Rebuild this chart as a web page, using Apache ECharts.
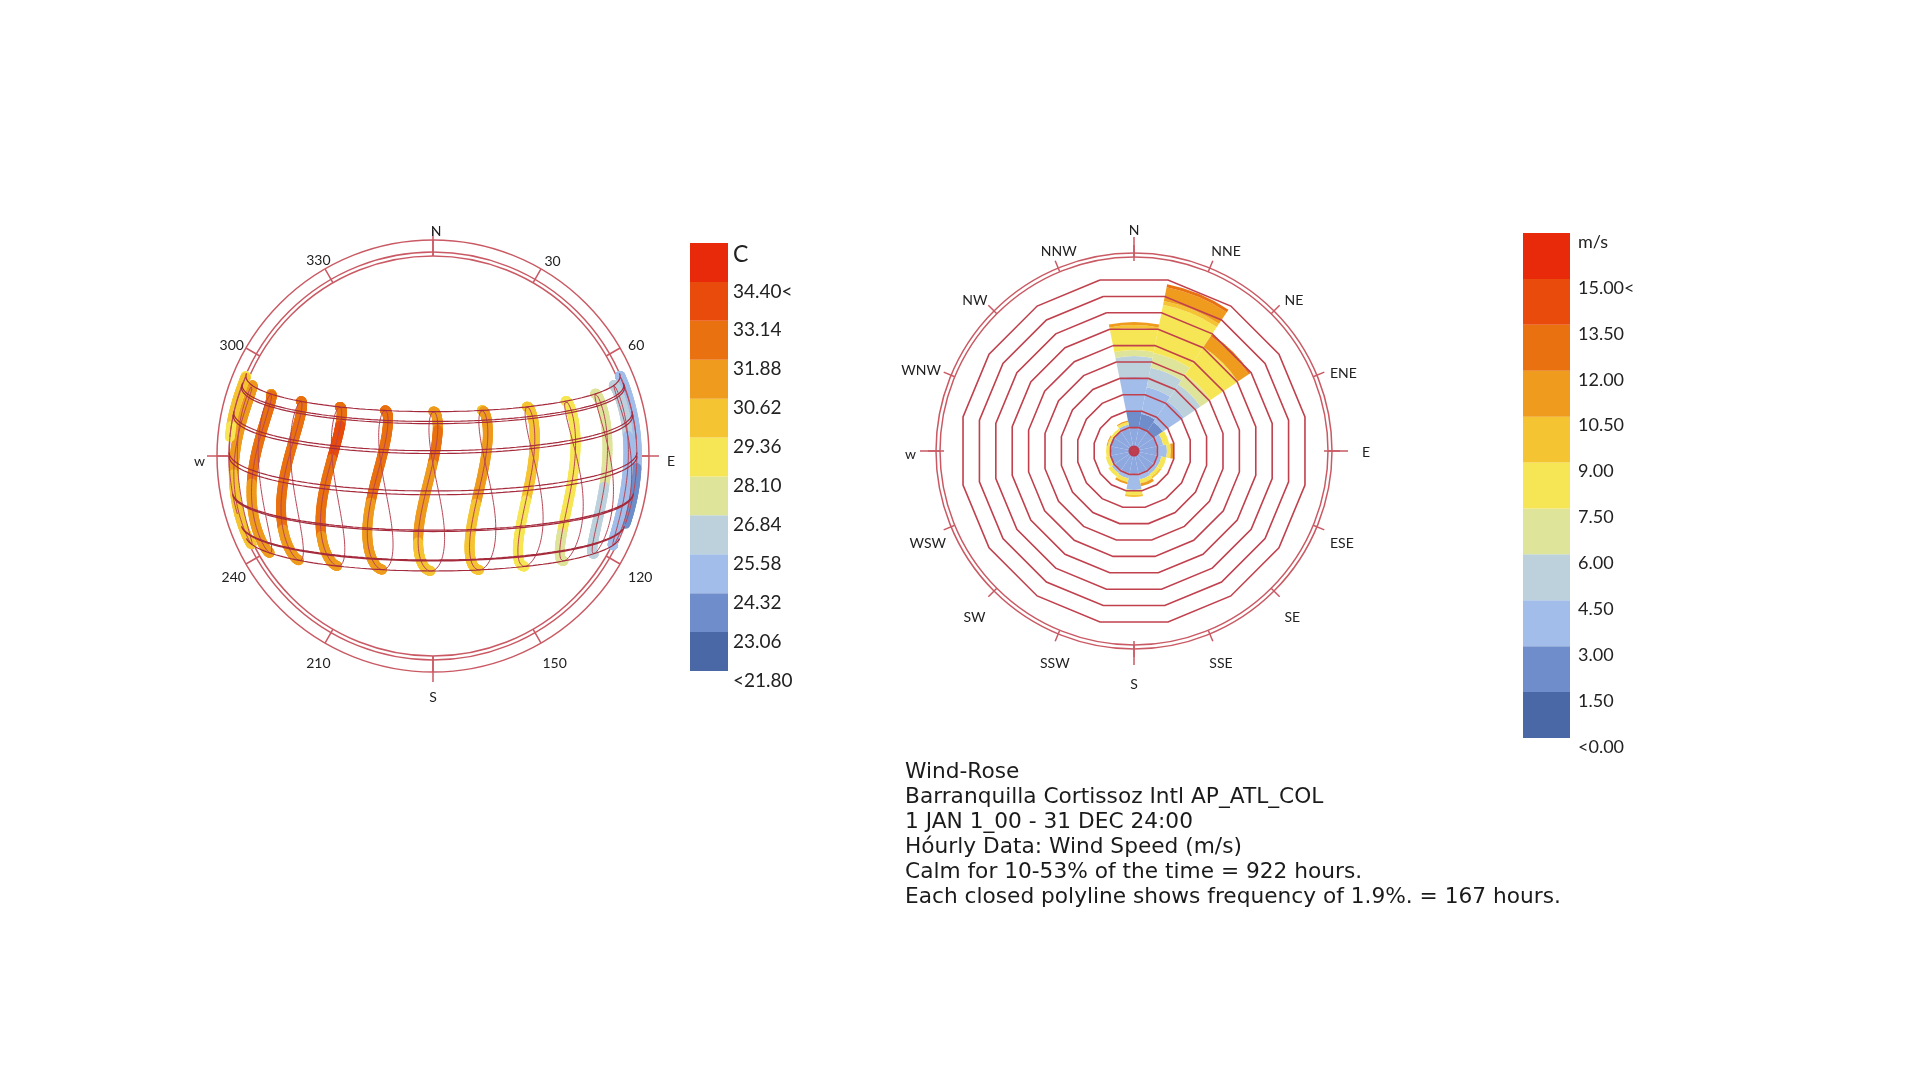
<!DOCTYPE html>
<html>
<head>
<meta charset="utf-8">
<title>Sun path and wind rose</title>
<script src="https://cdn.jsdelivr.net/npm/echarts@6/dist/echarts.min.js"></script>
<style>
  html, body { margin: 0; padding: 0; background: #fff; }
  #main { width: 1920px; height: 1080px; }
</style>
</head>
<body>
<div id="main"></div>
<script>
// ---- site ----
var latitude = 10.89;
var longitude = -74.78;
var timeZone = -5;

// ---- sun path: hours drawn, months with coloured points (21 Jun -> 21 Dec) ----
var sunHours = [6, 7, 8, 9, 10, 11, 12, 13, 14, 15, 16, 17, 18];
var dataMonths = ['Jun', 'Jul', 'Aug', 'Sep', 'Oct', 'Nov', 'Dec'];
var firstDataDay = 172;
var lastDataDay = 355;
var monthStartDay = [1, 32, 60, 91, 121, 152, 182, 213, 244, 274, 305, 335];
var dayCurveDays = [21, 52, 80, 111, 141, 172, 202, 233, 264, 294, 325, 355];

// dry bulb temperature (C), one row per hour, one value per month Jun..Dec
var hourlyTemp = [
  [24.8, 24.9, 25.0, 24.6, 24.3, 24.0, 23.8],
  [25.6, 25.8, 25.9, 25.5, 25.0, 24.6, 24.4],
  [27.0, 27.2, 27.4, 27.0, 26.6, 26.2, 25.8],
  [28.6, 28.9, 29.1, 28.7, 28.3, 27.9, 27.6],
  [29.6, 29.9, 30.1, 29.8, 29.3, 28.9, 28.6],
  [30.6, 30.9, 31.1, 30.7, 30.2, 29.8, 29.5],
  [31.4, 31.8, 32.0, 31.6, 31.0, 30.6, 30.4],
  [32.0, 32.4, 32.6, 32.2, 31.5, 31.1, 31.0],
  [32.4, 32.9, 33.2, 32.7, 32.0, 31.6, 31.4],
  [32.3, 32.8, 33.1, 32.6, 31.9, 31.5, 31.3],
  [31.8, 32.3, 32.5, 32.0, 31.3, 30.9, 30.7],
  [30.8, 31.2, 31.4, 30.9, 30.3, 29.9, 29.6],
  [29.2, 29.5, 29.7, 29.2, 28.6, 28.3, 28.0]
];

var sunDirLabels = ['N', '30', '60', '', '120', '150', '', '210', '240', '', '300', '330'];
var sunCardinals = ['', 'E', 'S', 'w'];

// legend bins, bottom -> top
var binColors = ['#4a67a6', '#6e8dca', '#a2bde9', '#bcd1dc', '#dfe49b', '#f6e655',
                 '#f5c433', '#ee9b1e', '#e97110', '#e84b0b', '#e8290a'];
var tempBreaks = [23.06, 24.32, 25.58, 26.84, 28.10, 29.36, 30.62, 31.88, 33.14, 34.40];
var tempLabels = ['<21.80', '23.06', '24.32', '25.58', '26.84', '28.10', '29.36',
                  '30.62', '31.88', '33.14', '34.40<', 'C'];
var speedLabels = ['<0.00', '1.50', '3.00', '4.50', '6.00', '7.50', '9.00',
                   '10.50', '12.00', '13.50', '15.00<', 'm/s'];

// ---- wind rose ----
var windDirs = ['N', 'NNE', 'NE', 'ENE', 'E', 'ESE', 'SE', 'SSE',
                'S', 'SSW', 'SW', 'WSW', 'W', 'WNW', 'NW', 'NNW'];
var windDirLabels = ['N', 'NNE', 'NE', 'ENE', 'E', 'ESE', 'SE', 'SSE',
                     'S', 'SSW', 'SW', 'WSW', 'w', 'WNW', 'NW', 'NNW'];
var calmFreq = [2.66, 2.66, 2.66, 2.66, 2.66, 2.66, 2.66, 2.66,
                2.66, 2.66, 2.66, 2.66, 2.66, 2.66, 2.66, 2.66];
// frequency (%) per speed bin (rows) and direction (columns)
var windFreqByBin = [
  [0, 0, 0, 0, 0, 0, 0, 0, 0, 0, 0, 0, 0, 0, 0, 0],
  [1.97, 1.74, 1.39, 0, 0, 0, 0, 0, 0, 0, 0, 0, 0, 0, 0, 0],
  [3.94, 3.13, 2.90, 0.81, 1.16, 0.58, 0.58, 0.70, 1.85, 0.58, 0.46, 0.23, 0.23, 0.23, 0.12, 0.46],
  [2.43, 2.32, 2.32, 0, 0, 0, 0, 0, 0, 0, 0, 0, 0, 0, 0, 0],
  [0.70, 1.74, 1.39, 0, 0, 0, 0, 0, 0, 0, 0, 0, 0, 0, 0, 0],
  [2.55, 5.68, 3.82, 0.70, 0.46, 0.58, 0.35, 0.46, 0.58, 0.46, 0.46, 0.46, 0.35, 0.23, 0.35, 0.35],
  [0.35, 0.46, 0, 0, 0, 0, 0.23, 0, 0.23, 0, 0, 0, 0, 0, 0, 0],
  [0.35, 1.62, 1.51, 0, 0.35, 0, 0, 0.35, 0, 0.23, 0, 0, 0, 0.12, 0, 0.12],
  [0, 0.35, 0.23, 0, 0, 0, 0, 0, 0, 0, 0, 0, 0, 0, 0, 0],
  [0, 0, 0, 0, 0, 0, 0, 0, 0, 0, 0, 0, 0, 0, 0, 0],
  [0, 0, 0, 0, 0, 0, 0, 0, 0, 0, 0, 0, 0, 0, 0, 0]
];
var ringStep = 1.9;
var ringCount = 10;

var noteLines = [
  'Wind-Rose',
  'Barranquilla Cortissoz Intl AP_ATL_COL',
  '1 JAN 1_00 - 31 DEC 24:00',
  'Hóurly Data: Wind Speed (m/s)',
  'Calm for 10-53% of the time = 922 hours.',
  'Each closed polyline shows frequency of 1.9%. = 167 hours.'
];

// ---- helpers ----
var rad = Math.PI / 180;
var phi = latitude * rad;

function declination(doy) {
  var g = 2 * Math.PI * (doy - 1) / 365;
  return 0.006918 - 0.399912 * Math.cos(g) + 0.070257 * Math.sin(g)
    - 0.006758 * Math.cos(2 * g) + 0.000907 * Math.sin(2 * g)
    - 0.002697 * Math.cos(3 * g) + 0.00148 * Math.sin(3 * g);
}
function eqTime(doy) {
  var g = 2 * Math.PI * (doy - 1) / 365;
  return 229.18 * (0.000075 + 0.001868 * Math.cos(g) - 0.032077 * Math.sin(g)
    - 0.014615 * Math.cos(2 * g) - 0.040849 * Math.sin(2 * g));
}
// orthographic projection of the sun onto the horizon plane (east, north, up)
function project(dec, ha) {
  return [
    -Math.cos(dec) * Math.sin(ha),
    Math.cos(phi) * Math.sin(dec) - Math.sin(phi) * Math.cos(dec) * Math.cos(ha),
    Math.sin(phi) * Math.sin(dec) + Math.cos(phi) * Math.cos(dec) * Math.cos(ha)
  ];
}
function sunAt(doy, hour) {
  var solarMin = hour * 60 + eqTime(doy) + 4 * (longitude - 15 * timeZone);
  var ha = (solarMin / 4 - 180) * rad;
  return project(declination(doy), ha);
}
function monthIndex(doy) {
  var m = 0;
  for (var i = 0; i < monthStartDay.length; i++) {
    if (doy >= monthStartDay[i]) m = i;
  }
  return m;
}

// analemma outlines
var analemmaData = [];
sunHours.forEach(function (h) {
  for (var d = 1; d <= 366; d++) {
    var p = sunAt(d > 365 ? 1 : d, h);
    if (p[2] > 0) analemmaData.push([p[0], p[1]]);
    else analemmaData.push(['-', '-']);
  }
  analemmaData.push(['-', '-']);
});

// day arcs
var dayArcData = [];
dayCurveDays.forEach(function (doy) {
  var dec = declination(doy);
  var h0 = Math.acos(-Math.tan(phi) * Math.tan(dec));
  for (var k = 0; k <= 90; k++) {
    var p = project(dec, -h0 + 2 * h0 * k / 90);
    dayArcData.push([p[0], p[1]]);
  }
  dayArcData.push(['-', '-']);
});

// coloured hourly points
var tempPoints = [];
sunHours.forEach(function (h, hi) {
  for (var d = firstDataDay; d <= lastDataDay; d++) {
    var p = sunAt(d, h);
    if (p[2] <= 0) continue;
    var mi = monthIndex(d) - 5;
    tempPoints.push([p[0], p[1], hourlyTemp[hi][mi]]);
  }
});

var tempPieces = binColors.map(function (c, i) {
  if (i === 0) return { lt: tempBreaks[0], color: c };
  if (i === binColors.length - 1) return { gte: tempBreaks[i - 1], color: c };
  return { gte: tempBreaks[i - 1], lt: tempBreaks[i], color: c };
});

// ---- layout ----
var FONT = 'Lato, "DejaVu Sans", sans-serif';
var RING = '#c95a64';
var sunC = [433, 456];
var sunLabelC = [436, 461];
var horizonR = 204;
var windC = [1134, 451];
var windLabelC = [1136, 456];
var windPxPerPct = 8.63;
var windR = 194;

// small nudges of single compass labels (px), keyed by label text
var sunLabelNudge = { '30': [-3, 1], '60': [-1, 3], '120': [-1, -2], '150': [-5, 2], '210': [6, 2],
                      '240': [3, -2], '300': [1, 3], '330': [6, 0], 'S': [-3, -2] };
var windLabelNudge = { 'N': [-2, 2], 'NNE': [-5, -4], 'ENE': [0, 5], 'E': [5, -4], 'SSE': [-7, 6],
                       'S': [-2, 0], 'SSW': [14, 6], 'SE': [0, 6], 'SW': [-2, 6], 'WSW': [4, 0],
                       'w': [1, -2], 'WNW': [-1, 2], 'NNW': [21, -4] };

var polar = [];
var angleAxis = [];
var radiusAxis = [];
var tickStyle = { color: RING, width: 1.5 };

function addPolar(center, radius, axisOpts, rMax) {
  var idx = polar.length;
  polar.push({ center: center, radius: radius });
  angleAxis.push(Object.assign({
    polarIndex: idx, type: 'value', min: 0, max: 360, startAngle: 90, clockwise: true,
    axisLine: { show: true, lineStyle: { color: RING, width: 1.5 } },
    axisTick: { show: false },
    axisLabel: { show: false },
    splitLine: { show: false }
  }, axisOpts));
  radiusAxis.push({ polarIndex: idx, type: 'value', min: 0, max: rMax || 1, show: false,
    axisLine: { show: false }, axisTick: { show: false }, axisLabel: { show: false }, splitLine: { show: false } });
  return idx;
}
// one polar per compass label so each one can sit where the reference puts it
function addLabels(center, radius, step, labels, margin, nudge) {
  labels.forEach(function (text, i) {
    if (!text) return;
    var off = nudge[text] || [0, 0];
    addPolar([center[0] + off[0], center[1] + off[1]], radius, {
      interval: step,
      axisLine: { show: false },
      axisLabel: {
        show: true, margin: margin, color: '#222', fontSize: 14, fontFamily: FONT,
        formatter: function (v) { return Math.round(v / step) === i ? text : ''; }
      }
    });
  });
}

// sun path frame
addPolar(sunC, 216, { interval: 30, axisTick: { show: true, inside: true, length: 16, lineStyle: tickStyle } });
addPolar(sunC, 204, { interval: 30 });
addPolar(sunC, 200, { interval: 30 });
addPolar(sunC, 226, { interval: 90, axisLine: { show: false }, axisTick: { show: true, inside: true, length: 26, lineStyle: tickStyle } });
addLabels(sunLabelC, 216, 30, sunDirLabels, 7, sunLabelNudge);
addLabels(sunLabelC, 226, 90, sunCardinals, 5, sunLabelNudge);

// wind rose frame
addPolar(windC, windR, { interval: 22.5, axisTick: { show: true, length: 12, lineStyle: tickStyle } });
addPolar(windC, windR + 4, { interval: 22.5 });
addPolar(windC, 214, { interval: 90, axisLine: { show: false }, axisTick: { show: true, inside: true, length: 24, lineStyle: tickStyle } });
addLabels(windLabelC, windR, 22.5, windDirLabels.map(function (t, i) { return i % 4 ? t : ''; }), 16, windLabelNudge);
addLabels(windLabelC, 214, 22.5, windDirLabels.map(function (t, i) { return i % 4 ? '' : t; }), 7, windLabelNudge);

// petal coordinate system: one category per direction, N centred at the top
var petalPolar = polar.length;
polar.push({ center: windC, radius: windR });
angleAxis.push({
  polarIndex: petalPolar, type: 'category', data: windDirs, startAngle: 90 + 11.25, clockwise: true,
  show: false, axisLine: { show: false }, axisTick: { show: false }, axisLabel: { show: false }, splitLine: { show: false }
});
radiusAxis.push({ polarIndex: petalPolar, type: 'value', min: 0, max: windR / windPxPerPct, show: false,
  axisLine: { show: false }, axisTick: { show: false }, axisLabel: { show: false }, splitLine: { show: false } });

// radar gives the closed frequency polylines (flat side facing each direction)
var ringInner = 7;
var radarIndicators = windDirs.map(function () { return { name: '', max: 1 }; });
var ringColors = [];
for (var i = 0; i <= ringCount; i++) ringColors.push(i === 0 ? 'rgba(0,0,0,0)' : '#c0404d');
var ringOuter = (ringInner + ringCount * ringStep * windPxPerPct) / Math.cos(11.25 * rad);

var series = [];

series.push({
  name: 'temperature', type: 'scatter', xAxisIndex: 0, yAxisIndex: 0,
  data: tempPoints, symbol: 'circle', symbolSize: 10, clip: false, z: 2,
  itemStyle: { opacity: 1 }, silent: true
});
series.push({
  name: 'analemma', type: 'line', xAxisIndex: 0, yAxisIndex: 0,
  data: analemmaData, showSymbol: false, connectNulls: false, clip: false, z: 3,
  lineStyle: { color: '#b94655', width: 1 }, silent: true
});
series.push({
  name: 'day arcs', type: 'line', xAxisIndex: 0, yAxisIndex: 0,
  data: dayArcData, showSymbol: false, connectNulls: false, clip: false, z: 3,
  lineStyle: { color: '#a52a3c', width: 1.2 }, silent: true
});

// wind rose petals
series.push({
  name: 'calm', type: 'bar', coordinateSystem: 'polar', polarIndex: petalPolar, stack: 'wind',
  data: calmFreq, barCategoryGap: '0%', itemStyle: { color: '#8ea8e0' }, z: 1, silent: true
});
windFreqByBin.forEach(function (row, b) {
  series.push({
    name: speedLabels[b], type: 'bar', coordinateSystem: 'polar', polarIndex: petalPolar, stack: 'wind',
    data: row, barCategoryGap: '0%', itemStyle: { color: binColors[b] }, z: 1, silent: true
  });
});
series.push({
  name: 'centre', type: 'scatter', coordinateSystem: 'polar', polarIndex: petalPolar,
  data: [[0, 0]], symbolSize: 11, itemStyle: { color: '#c41f2a' }, z: 10, silent: true
});

// legends as stacked blocks
binColors.forEach(function (c) {
  series.push({
    type: 'bar', xAxisIndex: 1, yAxisIndex: 1, stack: 'tl', data: [1], barWidth: '100%',
    itemStyle: { color: c }, silent: true
  });
  series.push({
    type: 'bar', xAxisIndex: 2, yAxisIndex: 2, stack: 'wl', data: [1], barWidth: '100%',
    itemStyle: { color: c }, silent: true
  });
});

function legendY(idx, labels, size) {
  return {
    gridIndex: idx, type: 'value', min: 0, max: 11, interval: 1, position: 'right',
    axisLine: { show: false }, axisTick: { show: false }, splitLine: { show: false },
    axisLabel: {
      margin: idx === 1 ? 5 : 8, verticalAlign: 'top', color: '#222', fontSize: size, fontFamily: FONT,
      formatter: function (v) {
        var s = labels[Math.round(v)];
        return s === 'C' ? '{u|C}' : s;
      },
      rich: { u: { fontSize: 23, fontFamily: FONT, color: '#222', verticalAlign: 'top' } }
    }
  };
}

var option = {
  animation: false,
  backgroundColor: '#ffffff',
  title: {
    left: 905, top: 760, padding: 0,
    text: noteLines.join('\n'),
    textStyle: { fontSize: 21.7, lineHeight: 25, fontWeight: 'normal', color: '#1b1b1b', fontFamily: '"DejaVu Sans", sans-serif' }
  },
  visualMap: {
    type: 'piecewise', show: false, seriesIndex: 0, dimension: 2, pieces: tempPieces
  },
  grid: [
    { left: sunC[0] - horizonR, top: sunC[1] - horizonR, width: 2 * horizonR, height: 2 * horizonR },
    { left: 690, top: 243, width: 38, height: 428 },
    { left: 1523, top: 233, width: 47, height: 505 }
  ],
  xAxis: [
    { gridIndex: 0, type: 'value', min: -1, max: 1, show: false },
    { gridIndex: 1, type: 'category', data: ['t'], show: false },
    { gridIndex: 2, type: 'category', data: ['w'], show: false }
  ],
  yAxis: [
    { gridIndex: 0, type: 'value', min: -1, max: 1, show: false },
    legendY(1, tempLabels, 19),
    legendY(2, speedLabels, 18)
  ],
  polar: polar,
  angleAxis: angleAxis,
  radiusAxis: radiusAxis,
  radar: {
    center: windC, radius: [ringInner / Math.cos(11.25 * rad), ringOuter],
    startAngle: 90 + 11.25, splitNumber: ringCount, shape: 'polygon', z: 3,
    indicator: radarIndicators,
    axisName: { show: false },
    axisLine: { show: false },
    splitArea: { show: false },
    splitLine: { lineStyle: { color: ringColors, width: 1.6 } }
  },
  series: series
};

var chart = echarts.init(document.getElementById('main'));
chart.setOption(option);
</script>
</body>
</html>
